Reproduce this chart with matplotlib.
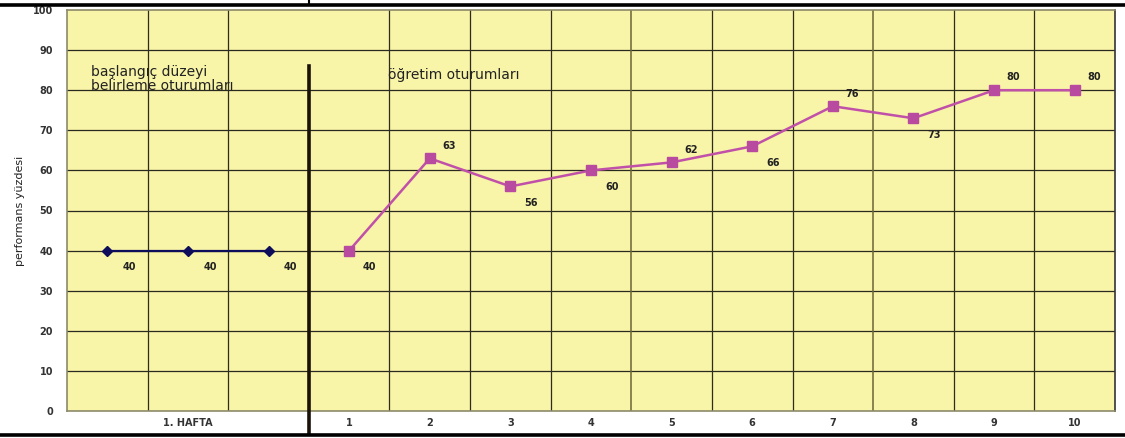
import matplotlib.pyplot as plt
from matplotlib.lines import Line2D

# baseline (başlangıç düzeyi) sessions - 1. HAFTA
baseline_vals = [40, 40, 40]
# teaching sessions 1..10
session_labels = ['1', '2', '3', '4', '5', '6', '7', '8', '9', '10']
session_vals = [40, 63, 56, 60, 62, 66, 76, 73, 80, 80]
y_ticks = [0, 10, 20, 30, 40, 50, 60, 70, 80, 90, 100]

# label placement: 'below' puts value under-right of marker, 'above' over-right
session_pos = ['below', 'above', 'below', 'below', 'above',
               'below', 'above', 'below', 'above', 'above']

fig = plt.figure(figsize=(11.25, 4.38), dpi=100)
ax = fig.add_axes([67 / 1125, 27 / 438, 1048 / 1125, 401 / 438])
ax.set_facecolor('#f8f4a8')

bx = list(range(len(baseline_vals)))
sx = [i + len(baseline_vals) for i in range(len(session_vals))]

# grid
for yv in y_ticks[1:-1]:
    ax.axhline(yv, color='#2a2a20', lw=0.9, zorder=1)
for i in range(len(bx) + len(sx) - 1):
    xv = i + 0.5
    if xv == 2.5:
        continue
    col = '#6b6535' if i in (6, 9) else '#2e2c1c'
    ax.axvline(xv, color=col, lw=1.1 if i in (6, 9) else 0.9, zorder=1)

# thick divider between phases
ax.plot([2.5, 2.5], [86, -5.8], color='#1a1208', lw=2.6, clip_on=False,
        zorder=3)

ax.plot(bx, baseline_vals, color='#0d0d5c', lw=1.6, marker='D',
        markersize=5.5, zorder=4)
ax.plot(sx, session_vals, color='#c050a8', lw=1.8, marker='s',
        markersize=7.5, markerfacecolor='#b84aa0', markeredgecolor='#b84aa0',
        zorder=4)

for x, v in zip(bx, baseline_vals):
    ax.annotate(str(v), (x, v), xytext=(11, -14), textcoords='offset points',
                fontsize=7, fontweight='bold', color='#222222')
for x, v, p in zip(sx, session_vals, session_pos):
    off = (10, -14) if p == 'below' else (9, 7)
    ax.annotate(str(v), (x, v), xytext=off, textcoords='offset points',
                fontsize=7, fontweight='bold', color='#222222')

ax.text(-0.2, 86.2, 'başlangıç düzeyi\nbelirleme oturumları', fontsize=10,
        color='#222222', va='top', linespacing=0.95)
ax.text(3.48, 85.5, 'öğretim oturumları', fontsize=10, color='#222222',
        va='top')

ax.set_xlim(-0.5, 12.5)
ax.set_ylim(0, 100)
ax.set_yticks(y_ticks)
ax.set_yticklabels([str(t) for t in y_ticks], fontsize=7, fontweight='bold',
                   color='#333333')
ax.set_xticks([1] + sx)
ax.set_xticklabels(['1. HAFTA'] + session_labels, fontsize=7,
                   fontweight='bold', color='#333333')
ax.tick_params(axis='both', length=0)
ax.tick_params(axis='y', pad=10)
ax.tick_params(axis='x', pad=5)

for s in ax.spines.values():
    s.set_color('#8c8a6a')
    s.set_linewidth(1.2)
ax.spines['right'].set_color('#333333')

ax.set_ylabel('performans yüzdesi', fontsize=8,
              family=['Liberation Sans Narrow', 'DejaVu Sans'],
              color='#222222', labelpad=6)

# screenshot crop edges (top and bottom rule lines)
fig.add_artist(Line2D([0, 1], [1 - 4.5 / 438, 1 - 4.5 / 438], color='black',
                      lw=2.6, transform=fig.transFigure))
fig.add_artist(Line2D([308.5 / 1125, 308.5 / 1125], [1, 1 - 4 / 438],
                      color='black', lw=1.5, transform=fig.transFigure))
fig.add_artist(Line2D([0, 1], [3 / 438, 3 / 438], color='black', lw=2.6,
                      transform=fig.transFigure))

fig.savefig('out.png', dpi=100, facecolor='white')
